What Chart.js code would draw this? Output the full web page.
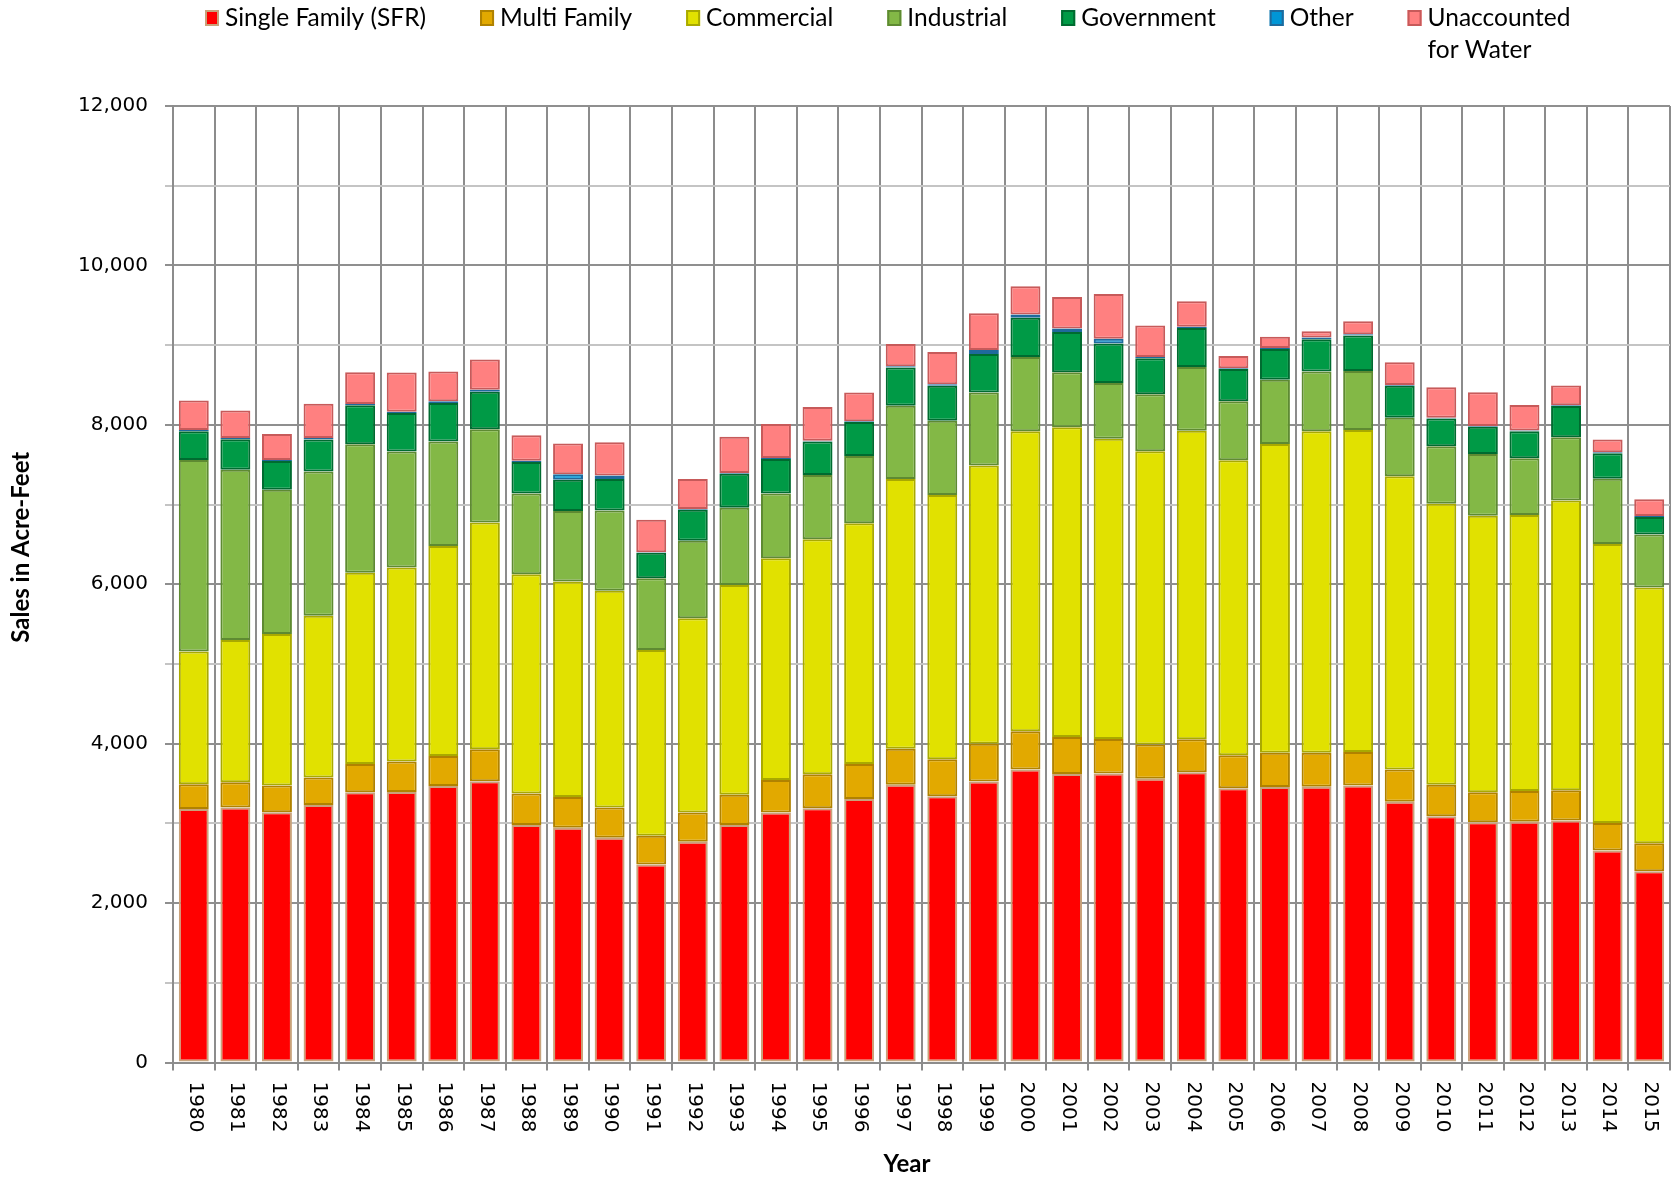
<!DOCTYPE html>
<html>
<head>
<meta charset="utf-8">
<script src="https://cdn.jsdelivr.net/npm/chart.js@4.4.1/dist/chart.umd.min.js"></script>
<style>
  body { margin: 0; background: #fff; }
  canvas { display: block; }
</style>
</head>
<body>
<canvas id="salesChart" width="1671" height="1178"></canvas>
<script>
// --- Data (acre-feet) ---
const years = ['1980', '1981', '1982', '1983', '1984', '1985', '1986', '1987', '1988', '1989',
    '1990', '1991', '1992', '1993', '1994', '1995', '1996', '1997', '1998', '1999',
    '2000', '2001', '2002', '2003', '2004', '2005', '2006', '2007', '2008', '2009',
    '2010', '2011', '2012', '2013', '2014', '2015'];

const singleFamily = [3180, 3200, 3140, 3230, 3390, 3395, 3470, 3530, 2980, 2945,
    2820, 2485, 2770, 2980, 3135, 3190, 3305, 3485, 3340, 3525,
    3675, 3620, 3625, 3560, 3640, 3440, 3455, 3460, 3475, 3270,
    3090, 3015, 3020, 3035, 2660, 2400];
const multiFamily = [310, 315, 335, 345, 355, 380, 375, 400, 395, 385,
    380, 360, 365, 380, 410, 425, 440, 450, 465, 475,
    480, 465, 435, 430, 415, 415, 430, 425, 420, 405,
    395, 375, 385, 380, 345, 350];
const commercial = [1665, 1785, 1900, 2030, 2400, 2435, 2635, 2845, 2750, 2705,
    2720, 2330, 2440, 2630, 2780, 2950, 3020, 3385, 3315, 3490,
    3765, 3885, 3765, 3680, 3870, 3700, 3875, 4035, 4040, 3680,
    3525, 3470, 3465, 3635, 3500, 3210];
const industrial = [2405, 2135, 1810, 1810, 1610, 1455, 1310, 1170, 1015, 885,
    1005, 900, 970, 970, 815, 805, 845, 920, 930, 915,
    930, 690, 700, 715, 800, 740, 805, 750, 740, 735,
    720, 775, 710, 795, 820, 665];
const government = [360, 385, 360, 400, 490, 485, 485, 470, 395, 390,
    395, 320, 390, 425, 430, 420, 425, 480, 440, 485,
    495, 505, 495, 450, 490, 405, 385, 405, 445, 400,
    350, 340, 340, 390, 320, 220];
const other = [15, 15, 15, 20, 15, 15, 20, 25, 15, 70,
    45, 5, 10, 10, 15, 10, 10, 15, 20, 50,
    40, 45, 60, 15, 15, 10, 15, 20, 15, 10,
    10, 10, 10, 10, 10, 10];
const unaccounted = [370, 345, 325, 430, 400, 490, 375, 380, 320, 385,
    415, 410, 375, 455, 425, 425, 360, 280, 405, 460,
    355, 395, 560, 395, 320, 155, 140, 80, 165, 285,
    380, 425, 320, 250, 160, 210];

const yTicks = [0, 2000, 4000, 6000, 8000, 10000, 12000];

// --- Fonts ---
const tickFont = '20px "DejaVu Sans"';
const legendFont = '24.5px Lato';
const titleFont = 'bold 24px Lato';

const series = [
    { label: 'Single Family (SFR)', data: singleFamily, fill: '#ff0000', line: '#c9a27a' },
    { label: 'Multi Family', data: multiFamily, fill: '#e2a900', line: '#b08200' },
    { label: 'Commercial', data: commercial, fill: '#e1e100', line: '#a9a900' },
    { label: 'Industrial', data: industrial, fill: '#83b846', line: '#5e8a32' },
    { label: 'Government', data: government, fill: '#009a46', line: '#006b30' },
    { label: 'Other', data: other, fill: '#0096d6', line: '#1f6a9c' },
    { label: ['Unaccounted', 'for Water'], data: unaccounted, fill: '#ff8080', line: '#c75a5a' }
];

// --- Extra drawing: legend, rotated year labels, axis titles ---
const decorations = {
    id: 'decorations',
    afterDraw(chart) {
        const ctx = chart.ctx;
        const area = chart.chartArea;
        const xs = chart.scales.x;

        ctx.save();
        ctx.fillStyle = '#000';

        // year labels, rotated clockwise
        ctx.font = tickFont;
        ctx.textAlign = 'left';
        ctx.textBaseline = 'middle';
        years.forEach((y, i) => {
            ctx.save();
            ctx.translate(xs.getPixelForTick(i) + 1, area.bottom + 19);
            ctx.rotate(Math.PI / 2);
            ctx.fillText(y, 0, 0);
            ctx.restore();
        });

        // legend
        ctx.font = legendFont;
        let x = 205;
        chart.data.datasets.forEach((ds) => {
            ctx.fillStyle = ds.backgroundColor;
            ctx.fillRect(x, 10, 14, 16);
            ctx.strokeStyle = ds.borderColor;
            ctx.lineWidth = 2;
            ctx.strokeRect(x + 1, 11, 12, 14);
            ctx.fillStyle = '#000';
            const lines = [].concat(ds.label);
            let w = 0;
            lines.forEach((t, k) => {
                ctx.fillText(t, x + 20, 18 + k * 32);
                w = Math.max(w, ctx.measureText(t).width);
            });
            x += 20 + w + 54;
        });

        // axis titles
        ctx.font = titleFont;
        ctx.textAlign = 'center';
        ctx.fillText('Year', 907, 1164);
        ctx.save();
        ctx.translate(21, (area.top + area.bottom) / 2 - 37);
        ctx.rotate(-Math.PI / 2);
        ctx.fillText('Sales in Acre-Feet', 0, 0);
        ctx.restore();

        ctx.restore();
    }
};

new Chart(document.getElementById('salesChart'), {
    type: 'bar',
    data: {
        labels: years,
        datasets: series.map(s => ({
            label: s.label,
            data: s.data,
            backgroundColor: s.fill,
            borderColor: s.line,
            borderWidth: 2,
            borderSkipped: false,
            barPercentage: 0.72,
            categoryPercentage: 1.0
        }))
    },
    options: {
        responsive: false,
        animation: false,
        layout: { padding: { top: 106, right: 1, left: 0, bottom: 0 } },
        plugins: {
            legend: { display: false },
            tooltip: { enabled: false }
        },
        scales: {
            x: {
                stacked: true,
                grid: { offset: true, color: '#8c8c8c', lineWidth: 2, tickLength: 8 },
                border: { color: '#8c8c8c', width: 2 },
                ticks: { display: false },
                afterFit: (scale) => { scale.height = 115.5; }
            },
            y: {
                stacked: true,
                min: 0,
                max: 12000,
                grid: {
                    color: (c) => (yTicks.includes(c.tick.value) ? '#8f8f8f' : '#c4c4c4'),
                    lineWidth: 2,
                    tickLength: 8
                },
                border: { color: '#8c8c8c', width: 2 },
                ticks: {
                    stepSize: 1000,
                    color: '#000',
                    padding: 17,
                    font: { family: 'DejaVu Sans', size: 20 },
                    callback: (v) => (yTicks.includes(v) ? v.toLocaleString('en-US') : '')
                },
                afterFit: (scale) => { scale.width = 173; }
            }
        }
    },
    plugins: [decorations]
});
</script>
</body>
</html>
